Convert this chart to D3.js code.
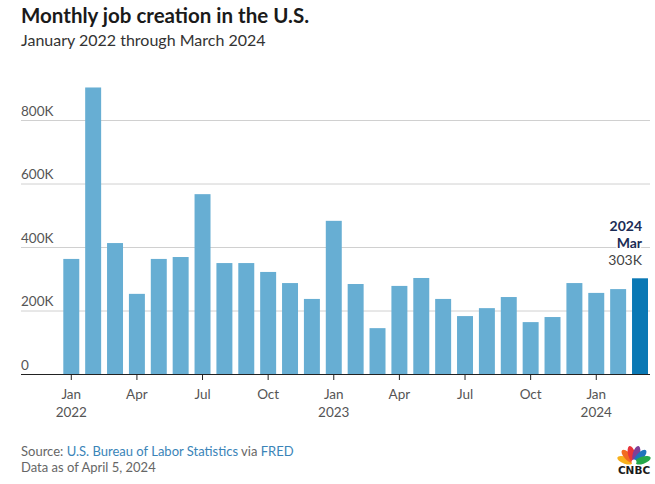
<!DOCTYPE html>
<html>
<head>
<meta charset="utf-8">
<script src="https://cdn.jsdelivr.net/npm/d3@7"></script>
<style>
  body { margin: 0; background: #fff; }
  svg { display: block; font-family: Lato, "Open Sans", sans-serif; }
</style>
</head>
<body>
<div id="chart"></div>
<script>
// monthly payroll change, thousands, Jan 2022 .. Mar 2024
const months = ['2022-01','2022-02','2022-03','2022-04','2022-05','2022-06','2022-07','2022-08','2022-09',
  '2022-10','2022-11','2022-12','2023-01','2023-02','2023-03','2023-04','2023-05','2023-06','2023-07',
  '2023-08','2023-09','2023-10','2023-11','2023-12','2024-01','2024-02','2024-03'];
const jobs = [364, 904, 414, 254, 364, 370, 568, 351, 351, 323, 288, 238, 484, 285, 146, 279, 304, 238, 184,
  209, 244, 165, 181, 288, 257, 269, 303];
const yTicks = [0, 200, 400, 600, 800];
const xTickMonths = ['2022-01','2022-04','2022-07','2022-10','2023-01','2023-04','2023-07','2023-10','2024-01'];

const parseMonth = d3.timeParse("%Y-%m");
const fmtMon = d3.timeFormat("%b");
const fmtYear = d3.timeFormat("%Y");

const width = 655, height = 484;
const left = 21, right = 650;
const y0 = 374.5;

const svg = d3.select("#chart").append("svg")
    .attr("width", width)
    .attr("height", height);

// header
svg.append("text")
    .attr("x", left).attr("y", 23)
    .style("font-size", "20.5px").style("font-weight", 700).style("fill", "#1a1a1a")
    .text("Monthly job creation in the U.S.");
svg.append("text")
    .attr("x", left).attr("y", 46)
    .style("font-size", "16px").style("fill", "#333")
    .text("January 2022 through March 2024");

let x = d3.scaleBand()
    .domain(months)
    .range([63.3, 648])
    .paddingInner(0.27)
    .paddingOuter(0);

let y = d3.scaleLinear()
    .domain([0, 200])
    .range([y0, y0 - 63.5]);

// gridlines + labels
let grid = svg.selectAll(".grid")
  .data(yTicks)
  .join("g")
    .attr("class", "grid")
    .attr("transform", d => `translate(0,${y(d)})`);
grid.filter(d => d > 0).append("line")
    .attr("x1", left).attr("x2", right)
    .style("stroke", "#d0d0d0").style("stroke-width", 1);
grid.append("text")
    .attr("x", left).attr("y", -5)
    .style("font-size", "13.5px").style("fill", "#555")
    .text(d => d === 0 ? "0" : d + "K");

// bars
svg.selectAll("rect.bar")
  .data(months)
  .join("rect")
    .attr("class", "bar")
    .attr("x", d => x(d))
    .attr("width", x.bandwidth())
    .attr("y", (d, i) => y(jobs[i]))
    .attr("height", (d, i) => y(0) - y(jobs[i]))
    .style("fill", (d, i) => i === months.length - 1 ? "#0a78b4" : "#67aed3");

// x axis
svg.append("line")
    .attr("x1", left).attr("x2", right)
    .attr("y1", y0).attr("y2", y0)
    .style("stroke", "#222").style("stroke-width", 1.2);

let xt = svg.selectAll(".xtick")
  .data(xTickMonths)
  .join("g")
    .attr("class", "xtick")
    .attr("transform", d => `translate(${x(d) + x.bandwidth() / 2},${y0})`);
xt.append("line").attr("y2", 5.5).style("stroke", "#222");
xt.append("text")
    .attr("y", 24).attr("text-anchor", "middle")
    .style("font-size", "13.5px").style("fill", "#555")
    .text(d => fmtMon(parseMonth(d)));
xt.filter(d => d.endsWith("-01")).append("text")
    .attr("y", 42).attr("text-anchor", "middle")
    .style("font-size", "13.5px").style("fill", "#555")
    .text(d => fmtYear(parseMonth(d)));

// annotation on last bar
const last = months[months.length - 1];
const ax = x(last) + x.bandwidth() - 6;
const ann = svg.append("g").attr("text-anchor", "end");
ann.append("text").attr("x", ax).attr("y", 231)
    .style("font-size", "14px").style("font-weight", 700).style("fill", "#1b2c55")
    .text(fmtYear(parseMonth(last)));
ann.append("text").attr("x", ax).attr("y", 248)
    .style("font-size", "14px").style("font-weight", 700).style("fill", "#1b2c55")
    .style("paint-order", "stroke").style("stroke", "#fff").style("stroke-width", 3)
    .text(fmtMon(parseMonth(last)));
ann.append("text").attr("x", ax).attr("y", 265)
    .style("font-size", "14px").style("fill", "#444")
    .text(jobs[jobs.length - 1] + "K");

// footer
let src = svg.append("text")
    .attr("x", left).attr("y", 456)
    .style("font-size", "13px").style("fill", "#666");
src.append("tspan").text("Source: ");
src.append("tspan").style("fill", "#3a84b8").text("U.S. Bureau of Labor Statistics");
src.append("tspan").text(" via ");
src.append("tspan").style("fill", "#3a84b8").text("FRED");
svg.append("text")
    .attr("x", left).attr("y", 472)
    .style("font-size", "13px").style("fill", "#666")
    .text("Data as of April 5, 2024");

// CNBC peacock
const featherColors = ["#f8b11c", "#f26b21", "#e8343a", "#7f3f98", "#1f74bb", "#25a84a"];
const angles = [-72, -43, -15, 15, 43, 72];
const logo = svg.append("g").attr("transform", "translate(634,463)");
logo.selectAll("ellipse")
  .data(angles)
  .join("ellipse")
    .attr("cx", 0).attr("cy", -9)
    .attr("rx", 3.6).attr("ry", 8.5)
    .attr("transform", d => `rotate(${d})`)
    .style("fill", (d, i) => featherColors[i]);
logo.append("circle").attr("r", 2.5).attr("cy", -1).style("fill", "#fff");
logo.append("text")
    .attr("x", 0).attr("y", 11).attr("text-anchor", "middle")
    .style("font-family", "'DejaVu Sans', sans-serif")
    .style("font-size", "10.5px").style("font-weight", 700).style("fill", "#1a1a1a")
    .text("CNBC");
</script>
</body>
</html>
